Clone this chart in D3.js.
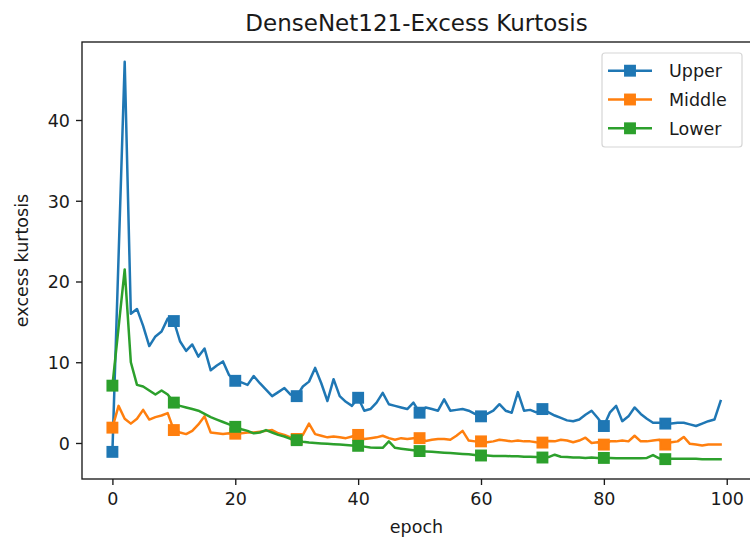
<!DOCTYPE html>
<html>
<head>
<meta charset="utf-8">
<script src="https://cdn.jsdelivr.net/npm/d3@7"></script>
<style>
  html, body { margin: 0; padding: 0; background: #fff; }
  svg { display: block; font-family: "DejaVu Sans", sans-serif; }
</style>
</head>
<body>
<svg id="chart" width="750" height="541"></svg>
<script>
// Per-epoch excess kurtosis of the three layer groups of DenseNet121
const epochs = d3.range(100);

const upper = [
  -1.1, 23.0, 47.2, 16.0, 16.6, 14.5, 12.0, 13.2, 13.8, 15.4,
  15.1, 12.6, 11.4, 12.2, 10.7, 11.7, 9.0, 9.6, 10.1, 8.4,
  7.7, 7.5, 7.2, 8.3, 7.4, 6.6, 5.8, 6.3, 6.8, 6.0,
  5.8, 7.0, 7.6, 9.3, 7.4, 5.2, 7.9, 5.8, 5.1, 4.6,
  5.6, 4.0, 4.2, 5.0, 6.2, 4.8, 4.6, 4.4, 4.2, 5.0,
  3.75, 4.4, 4.2, 4.0, 5.4, 4.0, 4.1, 4.2, 4.0, 3.6,
  3.3, 3.6, 4.0, 4.8, 4.0, 3.75, 6.3, 4.0, 4.1, 3.8,
  4.2, 3.8, 3.4, 3.1, 2.8, 2.7, 2.9, 3.5, 4.0, 3.1,
  2.1, 3.8, 4.6, 2.7, 3.3, 4.4, 3.6, 3.0, 2.5, 2.5,
  2.4, 2.4, 2.5, 2.5, 2.3, 2.1, 2.4, 2.7, 2.9, 5.2
];

const middle = [
  1.9, 4.6, 3.0, 2.4, 3.0, 4.1, 2.9, 3.2, 3.4, 3.7,
  1.6, 1.3, 1.1, 1.5, 2.3, 3.3, 1.3, 1.2, 1.1, 1.2,
  1.15, 1.2, 1.3, 1.3, 1.4, 1.5, 1.6, 1.2, 1.0, 0.7,
  0.5, 1.0, 2.4, 1.1, 0.9, 0.7, 0.8, 0.7, 0.6, 0.8,
  1.0, 0.5, 0.6, 0.7, 0.9, 0.6, 0.4, 0.6, 0.5, 0.6,
  0.6, 0.25, 0.4, 0.5, 0.5, 0.4, 0.9, 1.5, 0.3, 0.2,
  0.2, 0.1, 0.2, 0.4, 0.3, 0.2, 0.3, 0.2, 0.2, 0.1,
  0.05, 0.25, 0.2, 0.4, 0.3, 0.1, 0.3, 0.65, 0.0, 0.1,
  -0.2, 0.2, 0.2, 0.3, 0.2, 0.9, 0.2, 0.2, 0.3, 0.4,
  -0.2, 0.1, 0.2, 0.75, -0.1, -0.2, -0.3, -0.2, -0.2, -0.2
];

const lower = [
  7.1, 14.3, 21.5, 10.0, 7.2, 7.0, 6.5, 6.0, 6.5, 6.0,
  5.0, 4.6, 4.4, 4.2, 4.0, 3.6, 3.2, 2.9, 2.6, 2.3,
  2.0, 1.7, 1.5, 1.2, 1.3, 1.6, 1.3, 1.0, 0.8, 0.5,
  0.35, 0.15, 0.05, 0.0, -0.05, -0.1, -0.15, -0.2, -0.25, -0.3,
  -0.35, -0.45, -0.55, -0.6, -0.6, 0.2, -0.6, -0.7, -0.8, -0.9,
  -1.0, -1.05, -1.1, -1.15, -1.2, -1.25, -1.3, -1.35, -1.4, -1.5,
  -1.55, -1.55, -1.6, -1.6, -1.6, -1.65, -1.65, -1.7, -1.7, -1.75,
  -1.8, -1.75, -1.45, -1.7, -1.75, -1.8, -1.8, -1.85, -1.8, -1.85,
  -1.85, -1.85, -1.9, -1.9, -1.9, -1.9, -1.9, -1.85, -1.5, -1.9,
  -2.0, -1.95, -1.95, -1.95, -1.95, -1.95, -2.0, -2.0, -2.0, -2.0
];

const seriesNames = ["Upper", "Middle", "Lower"];
const seriesColors = ["#1f77b4", "#ff7f0e", "#2ca02c"];
const seriesValues = [upper, middle, lower];

const xTicks = [0, 20, 40, 60, 80, 100];
const yTicks = [0, 10, 20, 30, 40];

const titleText = "DenseNet121-Excess Kurtosis";
const xLabelText = "epoch";
const yLabelText = "excess kurtosis";

// ---- layout ----
const margin = { left: 82, top: 42, right: 751, bottom: 479 };
const fontSize = 17.5;
const ink = "#1a1a1a";
const markEvery = 10;

const svg = d3.select("#chart");

// 5% padding around the data extent on both axes
function padded(lo, hi) {
  const pad = (hi - lo) * 0.05;
  return [lo - pad, hi + pad];
}
const xExt = d3.extent(epochs);
const allY = seriesValues.flat();
const yExt = d3.extent(allY);

const x = d3.scaleLinear().domain(padded(xExt[0], xExt[1])).range([margin.left, margin.right]);
const y = d3.scaleLinear().domain(padded(yExt[0], yExt[1])).range([margin.bottom, margin.top]);

// ---- axes ----
const xAxis = d3.axisBottom(x).tickValues(xTicks).tickSize(6).tickPadding(6).tickFormat(d3.format("d"));
const yAxis = d3.axisLeft(y).tickValues(yTicks).tickSize(6).tickPadding(6).tickFormat(d3.format("d"));

const gx = svg.append("g").attr("transform", `translate(0,${margin.bottom})`).call(xAxis);
const gy = svg.append("g").attr("transform", `translate(${margin.left},0)`).call(yAxis);

[gx, gy].forEach(g => {
  g.select(".domain").remove();
  g.selectAll(".tick line").attr("stroke", ink).attr("stroke-width", 1.35);
  g.selectAll(".tick text").attr("fill", ink).style("font-size", fontSize + "px")
    .style("font-family", "'DejaVu Sans', sans-serif");
});
gx.selectAll(".tick text").attr("dy", "0.78em");
gy.selectAll(".tick text").attr("dy", "0.36em");

// ---- series ----
const line = d3.line().x((d, i) => x(epochs[i])).y(d => y(d));
const markerSize = 10.2;

seriesValues.forEach((vals, k) => {
  const g = svg.append("g");
  g.append("path")
    .datum(vals)
    .attr("d", line)
    .attr("fill", "none")
    .attr("stroke", seriesColors[k])
    .attr("stroke-width", 2.5)
    .attr("stroke-linejoin", "round")
    .attr("stroke-linecap", "square");
  const marked = epochs.filter(e => e % markEvery === 0);
  g.selectAll("rect")
    .data(marked)
    .join("rect")
    .attr("x", e => x(e) - markerSize / 2)
    .attr("y", e => y(vals[e]) - markerSize / 2)
    .attr("width", markerSize)
    .attr("height", markerSize)
    .attr("fill", seriesColors[k])
    .attr("stroke", seriesColors[k])
    .attr("stroke-width", 1.7);
});

// ---- spines ----
svg.append("rect")
  .attr("x", margin.left).attr("y", margin.top)
  .attr("width", margin.right - margin.left).attr("height", margin.bottom - margin.top)
  .attr("fill", "none").attr("stroke", ink).attr("stroke-width", 1.35);

// ---- titles ----
const cx = (margin.left + margin.right) / 2;
const cy = (margin.top + margin.bottom) / 2;

svg.append("text")
  .attr("x", cx).attr("y", 31)
  .attr("text-anchor", "middle")
  .attr("fill", ink)
  .style("font-size", "23px")
  .text(titleText);

svg.append("text")
  .attr("x", cx).attr("y", 533)
  .attr("text-anchor", "middle")
  .attr("fill", ink)
  .style("font-size", fontSize + "px")
  .text(xLabelText);

svg.append("text")
  .attr("transform", `translate(28,${cy}) rotate(-90)`)
  .attr("text-anchor", "middle")
  .attr("fill", ink)
  .style("font-size", fontSize + "px")
  .text(yLabelText);

// ---- legend ----
const legend = { x0: 602, y0: 53, w: 140, h: 94, rowH: 28.8, lineX0: 608, lineX1: 652, textX: 669 };
const lg = svg.append("g");
lg.append("rect")
  .attr("x", legend.x0).attr("y", legend.y0)
  .attr("width", legend.w).attr("height", legend.h)
  .attr("rx", 3).attr("ry", 3)
  .attr("fill", "#fff").attr("fill-opacity", 0.8)
  .attr("stroke", "#d6d6d6").attr("stroke-width", 1.2);

seriesNames.forEach((name, k) => {
  const ry = legend.y0 + 17.7 + k * legend.rowH;
  lg.append("line")
    .attr("x1", legend.lineX0).attr("x2", legend.lineX1)
    .attr("y1", ry).attr("y2", ry)
    .attr("stroke", seriesColors[k]).attr("stroke-width", 2.5);
  const mx = (legend.lineX0 + legend.lineX1) / 2;
  lg.append("rect")
    .attr("x", mx - markerSize / 2).attr("y", ry - markerSize / 2)
    .attr("width", markerSize).attr("height", markerSize)
    .attr("fill", seriesColors[k]).attr("stroke", seriesColors[k]).attr("stroke-width", 1.7);
  lg.append("text")
    .attr("x", legend.textX).attr("y", ry)
    .attr("dy", "0.36em")
    .attr("fill", ink)
    .style("font-size", fontSize + "px")
    .text(name);
});
</script>
</body>
</html>
